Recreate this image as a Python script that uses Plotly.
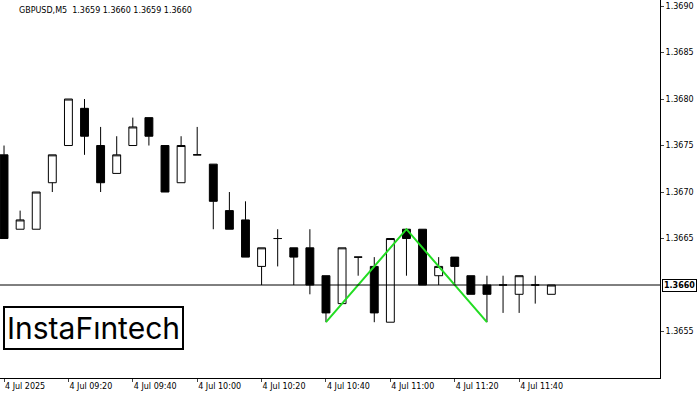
import plotly.graph_objects as go

opens  = [1.3674,1.3666,1.3666,1.3671,1.3675,1.3679,1.3675,1.3672,1.3675,1.3678,1.3675,1.3671,1.3674,1.3673,1.3668,1.3667,1.3662,1.3665,1.3664,1.3664,1.3661,1.3658,1.3663,1.3662,1.3656,1.3666,1.3666,1.3661,1.3663,1.3661,1.3660,1.3660,1.3659,1.3660,1.3659]
closes = [1.3665,1.3667,1.3670,1.3674,1.3680,1.3676,1.3671,1.3674,1.3677,1.3676,1.3670,1.3675,1.3674,1.3669,1.3666,1.3663,1.3664,1.3665,1.3663,1.3660,1.3657,1.3664,1.3663,1.3657,1.3665,1.3665,1.3660,1.3662,1.3662,1.3659,1.3659,1.3660,1.3661,1.3660,1.3660]
highs  = [1.3675,1.3668,1.3670,1.3674,1.3680,1.3680,1.3677,1.3676,1.3678,1.3678,1.3675,1.3676,1.3677,1.3673,1.3670,1.3669,1.3664,1.3666,1.3664,1.3666,1.3661,1.3664,1.3663,1.3663,1.3665,1.3666,1.3666,1.3663,1.3663,1.3661,1.3661,1.3661,1.3661,1.3661,1.3660]
lows   = [1.3665,1.3666,1.3666,1.3670,1.3675,1.3674,1.3670,1.3672,1.3675,1.3675,1.3670,1.3671,1.3674,1.3666,1.3666,1.3663,1.3660,1.3662,1.3660,1.3659,1.3656,1.3658,1.3661,1.3656,1.3656,1.3661,1.3660,1.3660,1.3660,1.3659,1.3656,1.3657,1.3657,1.3658,1.3659]
x_idx = list(range(len(opens)))
tick_pos = [0,4,8,12,16,20,24,28,32]
tick_text = ["4 Jul 2025","4 Jul 09:20","4 Jul 09:40","4 Jul 10:00","4 Jul 10:20","4 Jul 10:40","4 Jul 11:00","4 Jul 11:20","4 Jul 11:40"]
pattern_x = [20,25,30]
pattern_y = [1.3656,1.3666,1.3656]
current_price = 1.3660
y_ticks = [1.3655,1.3665,1.3670,1.3675,1.3680,1.3685,1.3690]

fig = go.Figure()
fig.add_trace(go.Candlestick(x=x_idx, open=opens, high=highs, low=lows, close=closes,
    increasing=dict(fillcolor="white", line=dict(color="black", width=1)),
    decreasing=dict(fillcolor="black", line=dict(color="black", width=1)),
    whiskerwidth=0, showlegend=False, hoverinfo="skip"))
fig.add_trace(go.Scatter(x=pattern_x, y=pattern_y, mode="lines",
    line=dict(color="#22dd22", width=2), showlegend=False, hoverinfo="skip"))
fig.add_hline(y=current_price, line=dict(color="black", width=1))
fig.add_annotation(x=1, xref="paper", y=current_price, yref="y", text="<b>1.3660</b>", showarrow=False,
    xanchor="left", xshift=2, bgcolor="white", bordercolor="black", borderwidth=1,
    font=dict(size=8, color="black", family="DejaVu Sans"), borderpad=1)
fig.add_annotation(x=0.026, xref="paper", y=1, yref="paper", text="GBPUSD,M5  1.3659 1.3660 1.3659 1.3660",
    showarrow=False, xanchor="left", yanchor="top", yshift=-4, font=dict(size=8, color="black", family="DejaVu Sans"))
fig.add_annotation(x=0.004, xref="paper", y=0.075, yref="paper", text="InstaFıntech", showarrow=False,
    xanchor="left", yanchor="bottom", font=dict(size=30, color="black", family="Inter"),
    bordercolor="black", borderwidth=2, bgcolor="white", borderpad=2)
fig.update_layout(width=700, height=400, margin=dict(l=0, r=40, t=0, b=22, autoexpand=False),
    plot_bgcolor="white", paper_bgcolor="white",
    font=dict(family="DejaVu Sans", size=8, color="black"))
fig.update_xaxes(range=[-0.25, 40.75], tickvals=tick_pos, ticktext=tick_text, ticks="outside", ticklen=3,
    ticklabelposition="outside right", showgrid=False, zeroline=False, rangeslider=dict(visible=False),
    showline=True, linecolor="black", mirror=True, automargin=False)
fig.update_yaxes(range=[1.36500, 1.369065], side="right", tickvals=y_ticks, tickformat=".4f", ticks="outside",
    ticklen=3, showgrid=False, zeroline=False, showline=True, linecolor="black", mirror=True, automargin=False)
fig.write_html("out.html", config={"displayModeBar": False},
    post_script="document.body.style.margin='0';document.body.style.overflow='hidden';")
